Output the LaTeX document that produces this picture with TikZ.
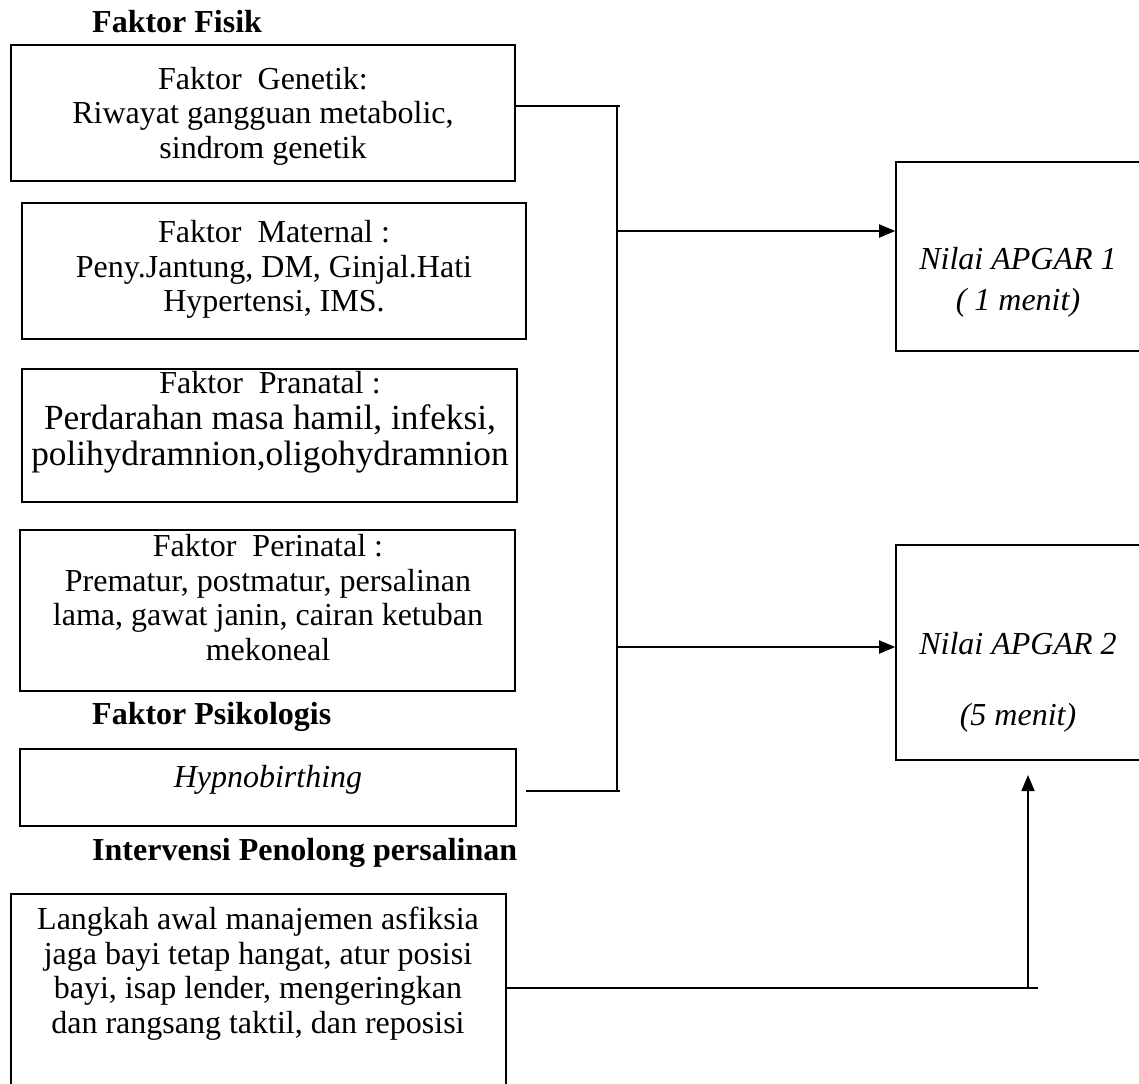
\documentclass[tikz,border=0pt]{standalone}
\usepackage{fontspec}
\setmainfont{Liberation Serif}
\usetikzlibrary{arrows.meta}
\begin{document}
\begin{tikzpicture}[x=1pt,y=-1pt,
  box/.style={draw,line width=1.6pt,inner sep=0pt,rectangle},
  txt/.style={align=center,font=\fontsize{32}{34.5}\selectfont,inner sep=0pt},
  head/.style={anchor=west,font=\fontsize{32}{34.5}\selectfont\bfseries,inner sep=0pt},
  conn/.style={line width=1.8pt},
  arr/.style={conn,-{Triangle[length=16pt,width=13pt]}}]
\useasboundingbox (0,0) rectangle (1139,1083);
\clip (0,0) rectangle (1139,1083);
% headings
\node[head] (h1) at (92,22) {Faktor Fisik};
\node[head] (h2) at (92,717) {Faktor Psikologis};
\node[head] (h3) at (92,853) {Intervensi Penolong persalinan};
% boxes
\node[box,minimum width=504pt,minimum height=136pt] (b1) at (263,113) {};
\node[box,minimum width=504pt,minimum height=136pt] (b2) at (274,271) {};
\node[box,minimum width=495pt,minimum height=133pt] (b3) at (269.5,435.5) {};
\node[box,minimum width=495pt,minimum height=161pt] (b4) at (267.5,610.5) {};
\node[box,minimum width=496pt,minimum height=77pt] (hyp) at (268,787.5) {};
\node[box,minimum width=495pt,minimum height=206pt] (bot) at (258.5,997) {};
\node[box,minimum width=254pt,minimum height=189pt] (ap1) at (1023,256.5) {};
\node[box,minimum width=254pt,minimum height=215pt] (ap2) at (1023,652.5) {};
% texts
\node[txt] (t1) at (263,116) {Faktor\ \ Genetik:\\Riwayat gangguan metabolic,\\sindrom genetik};
\node[txt] (t2) at (274,269.5) {Faktor\ \ Maternal :\\Peny.Jantung, DM, Ginjal.Hati\\Hypertensi, IMS.};
\node[txt,font=\fontsize{35.3}{36}\selectfont] (t3) at (270,422) {{\fontsize{32}{34.5}\selectfont Faktor\ \ Pranatal :}\\Perdarahan masa hamil, infeksi,\\polihydramnion,oligohydramnion};
\node[txt] (t4) at (268,597.5) {Faktor\ \ Perinatal :\\Prematur, postmatur, persalinan\\lama, gawat janin, cairan ketuban\\mekoneal};
\node[txt] (th) at (268,780) {\itshape Hypnobirthing};
\node[txt] (tb) at (258,973.5) {Langkah awal manajemen asfiksia\\jaga bayi tetap hangat, atur posisi\\bayi, isap lender, mengeringkan\\dan rangsang taktil, dan reposisi};
\node[txt,font=\fontsize{32}{34.5}\selectfont\itshape] (ta1) at (1018,282.5) {Nilai APGAR 1\\[6.5pt]( 1 menit)};
\node[txt,font=\fontsize{32}{34.5}\selectfont\itshape] (ta2) at (1018,682.5) {Nilai APGAR 2\\[36.5pt](5 menit)};
% connector coordinates
\coordinate (bt) at (617,106);
\coordinate (bte) at (620,106);
\coordinate (bb) at (617,791);
\coordinate (hs) at (526,791);
\coordinate (hse) at (620,791);
\coordinate (a1s) at (617,231);
\coordinate (a2s) at (617,647);
\coordinate (bc) at (1028,988);
\coordinate (bce) at (1038,988);
\coordinate (bup) at (1028,775);
% connectors
\draw[conn] (b1.east |- bte) -- (bte);
\draw[conn] (bt) -- (bb);
\draw[conn] (hs) -- (hse);
\draw[arr] (a1s) -- (ap1.west |- a1s);
\draw[arr] (a2s) -- (ap2.west |- a2s);
\draw[conn] (bot.east |- bc) -- (bce);
\draw[arr] (bc) -- (bup);
\end{tikzpicture}
\end{document}
